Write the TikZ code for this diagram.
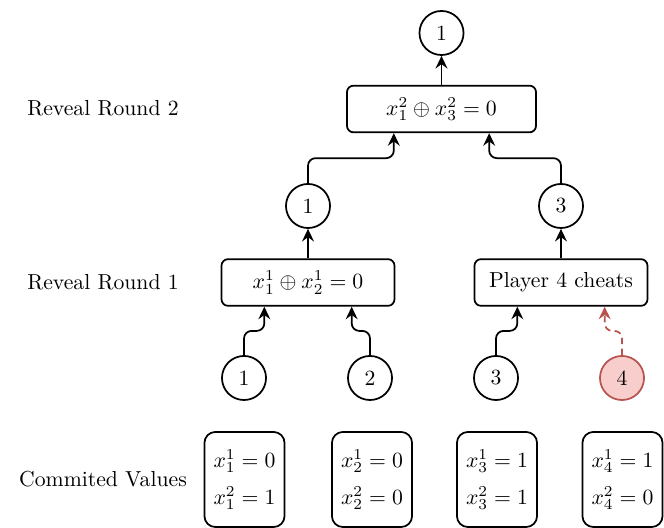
\documentclass[tikz,border=0pt]{standalone}
\usetikzlibrary{arrows.meta,calc}
\definecolor{rstroke}{HTML}{B85450}
\definecolor{rfill}{HTML}{F8CECC}
\begin{document}
\begin{tikzpicture}[x=0.4608pt,y=-0.4608pt,
  player/.style={circle, draw, thick, minimum size=20.3pt, inner sep=0pt},
  cheat/.style={player, draw=rstroke, fill=rfill},
  xorbox/.style={draw, thick, rounded corners=3pt, minimum height=21.5pt, inner sep=2pt},
  commitbox/.style={draw, thick, rounded corners=5pt, minimum width=36.9pt, minimum height=43.8pt, align=center, inner sep=2pt},
  conn/.style={thick, -{Stealth[length=5.8pt,width=5.5pt,inset=2pt]}, rounded corners=3.5pt},
  cheatconn/.style={conn, draw=rstroke, dash pattern=on 3pt off 2pt},
  rowlabel/.style={anchor=center}
]
\useasboundingbox (0,0) rectangle (664,528);

% row labels
\node[rowlabel] (l2) at (103,108) {Reveal Round 2};
\node[rowlabel] (l1) at (103,282) {Reveal Round 1};
\node[rowlabel] (l0) at (103,479) {Commited Values};

% top
\node[player] (top) at (441.5,33) {1};
\node[xorbox, minimum width=87.1pt] (r2) at (441.5,109) {$x_1^2 \oplus x_3^2 = 0$};

% middle circles
\node[player] (m1) at (308,206) {1};
\node[player] (m3) at (561,206) {3};

% level 1 boxes
\node[xorbox, minimum width=79.7pt] (r1a) at (308,282.5) {$x_1^1 \oplus x_2^1 = 0$};
\node[xorbox, minimum width=79.7pt] (r1b) at (561,282.5) {Player 4 cheats};

% bottom circles
\node[player] (p1) at (244,378) {1};
\node[player] (p2) at (370,378) {2};
\node[player] (p3) at (496,378) {3};
\node[cheat]  (p4) at (622,378) {4};

% commit boxes
\node[commitbox] (c1) at (244.5,479.5) {$x_1^1 = 0$\\[5pt]$x_1^2 = 1$};
\node[commitbox] (c2) at (372,479.5) {$x_2^1 = 0$\\[5pt]$x_2^2 = 0$};
\node[commitbox] (c3) at (497,479.5) {$x_3^1 = 1$\\[5pt]$x_3^2 = 1$};
\node[commitbox] (c4) at (622.5,479.5) {$x_4^1 = 1$\\[5pt]$x_4^2 = 0$};

% targets on box bottoms
\coordinate (r2L) at ($(r2.south west)!0.25!(r2.south east)$);
\coordinate (r2R) at ($(r2.south west)!0.75!(r2.south east)$);
\coordinate (r1aL) at ($(r1a.south west)!0.25!(r1a.south east)$);
\coordinate (r1aR) at ($(r1a.south west)!0.75!(r1a.south east)$);
\coordinate (r1bL) at ($(r1b.south west)!0.25!(r1b.south east)$);
\coordinate (r1bR) at ($(r1b.south west)!0.75!(r1b.south east)$);

% vertical arrows
\draw[conn] (r2.north) -- (top.south);
\draw[conn] (r1a.north) -- (m1.south);
\draw[conn] (r1b.north) -- (m3.south);

% elbow arrows
\coordinate (hm1) at ($(m1.north)!0.5!(r2L)$);
\draw[conn] (m1.north) -- (m1.north |- hm1) -| (r2L);
\coordinate (hm3) at ($(m3.north)!0.5!(r2R)$);
\draw[conn] (m3.north) -- (m3.north |- hm3) -| (r2R);

\coordinate (hp1) at ($(p1.north)!0.5!(r1aL)$);
\draw[conn] (p1.north) -- (p1.north |- hp1) -| (r1aL);
\coordinate (hp2) at ($(p2.north)!0.5!(r1aR)$);
\draw[conn] (p2.north) -- (p2.north |- hp2) -| (r1aR);
\coordinate (hp3) at ($(p3.north)!0.5!(r1bL)$);
\draw[conn] (p3.north) -- (p3.north |- hp3) -| (r1bL);
\coordinate (hp4) at ($(p4.north)!0.5!(r1bR)$);
\draw[cheatconn] (p4.north) -- (p4.north |- hp4) -| (r1bR);
\end{tikzpicture}
\end{document}
